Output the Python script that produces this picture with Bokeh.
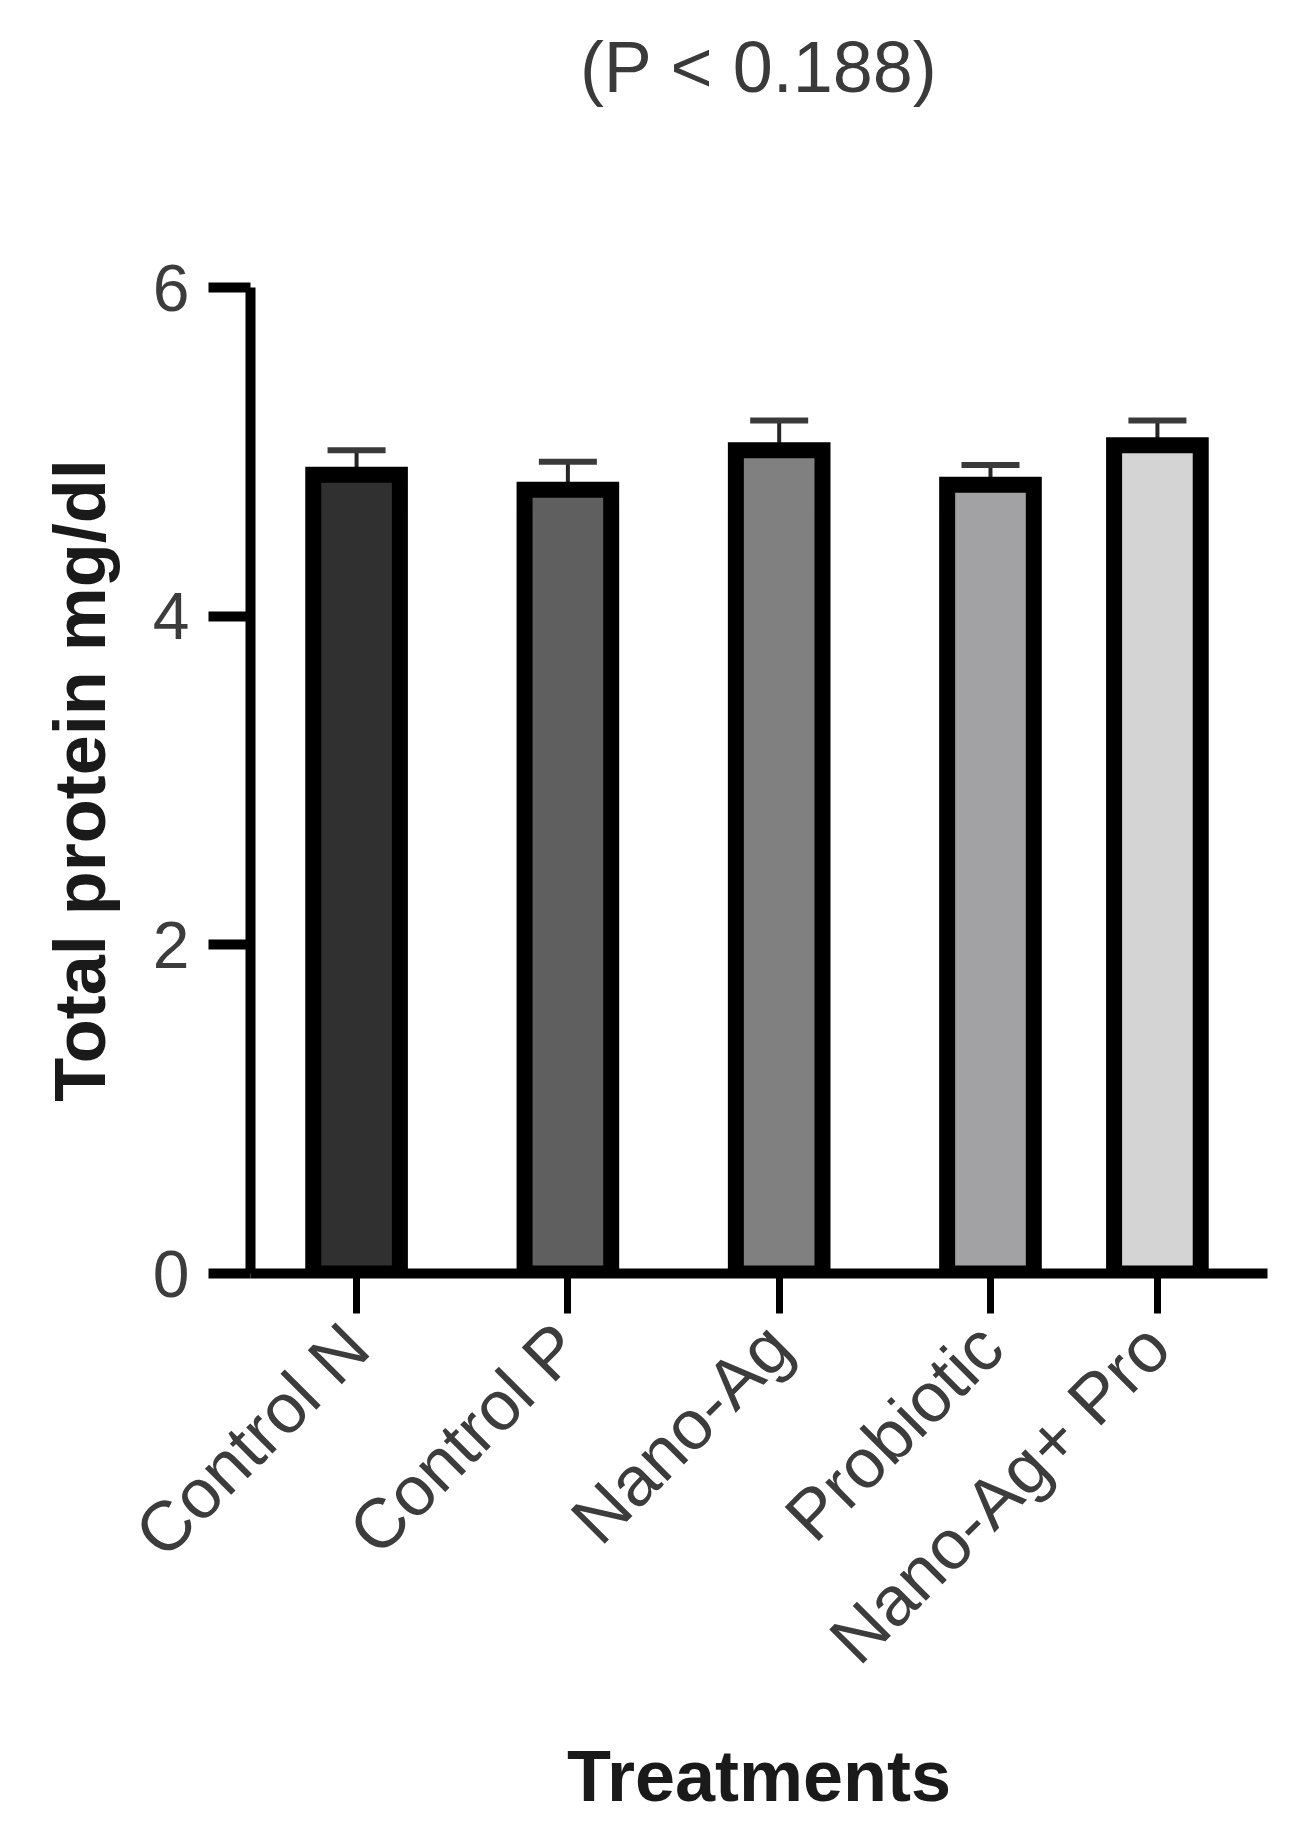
import math
from bokeh.plotting import figure
from bokeh.models import ColumnDataSource, FixedTicker, Whisker, TeeHead, Title
from bokeh.embed import file_html
from bokeh.resources import INLINE

# ---- data ----
categories = ["Control N", "Control P", "Nano-Ag", "Probiotic", "Nano-Ag+ Pro"]
means = [4.86, 4.77, 5.01, 4.80, 5.04]
sems = [0.15, 0.17, 0.18, 0.12, 0.15]
colors = ["#303030", "#5f5f5f", "#808080", "#a2a2a5", "#d4d4d4"]
y_ticks = [0, 2, 4, 6]
title_text = "(P < 0.188)"
x_title = "Treatments"
y_title = "Total protein mg/dl"

# ---- layout: category slots on a numeric axis (last slot is set closer, as in the reference) ----
x_pos = [1, 2, 3, 4, 4.79]
X_START, X_END = 0.498, 5.311

src = ColumnDataSource(dict(
    x=x_pos,
    mean=means,
    upper=[m + s for m, s in zip(means, sems)],
    color=colors,
    cat=categories,
))

p = figure(width=1285, height=1824, output_backend="svg", toolbar_location=None,
           x_range=(X_START, X_END), y_range=(0, 6),
           min_border_left=250, min_border_right=18,
           min_border_top=287, min_border_bottom=551)
p.outline_line_color = None
p.xgrid.grid_line_color = None
p.ygrid.grid_line_color = None
p.background_fill_color = "white"
p.border_fill_color = "white"

# error bars (upward only)
err = Whisker(base="x", lower="mean", upper="upper", source=src,
              line_color="#262626", line_width=4,
              upper_head=TeeHead(size=58, line_color="#3a3a3a", line_width=6),
              lower_head=None, level="underlay")
p.add_layout(err)

p.vbar(x="x", top="mean", bottom=0, width=0.41, source=src,
       fill_color="color", line_color="black", line_width=16, line_join="miter")

# spacer panel between the frame and the title (pushes the title to the top)
spacer = Title(text=" ", text_font_size="1px", standoff=178)
p.add_layout(spacer, "above")

# title
p.title.text = title_text
p.title.align = "center"
p.title.vertical_align = "bottom"
p.title.text_font = "Liberation Sans"
p.title.text_font_size = "72px"
p.title.text_font_style = "normal"
p.title.text_color = "#3a3a3a"
p.title.standoff = 0

# y axis
ya = p.yaxis[0]
ya.ticker = FixedTicker(ticks=y_ticks)
ya.axis_line_width = 10
ya.axis_line_color = "black"
ya.major_tick_line_width = 10
ya.major_tick_line_color = "black"
ya.major_tick_out = 42
ya.major_tick_in = 0
ya.minor_tick_line_color = None
ya.major_label_text_font = "Liberation Sans"
ya.major_label_text_font_size = "66px"
ya.major_label_text_color = "#3c3c3c"
ya.major_label_standoff = 19
ya.axis_label = y_title
ya.axis_label_text_font = "Liberation Sans"
ya.axis_label_text_font_size = "72px"
ya.axis_label_text_font_style = "bold"
ya.axis_label_text_color = "#1a1a1a"
ya.axis_label_standoff = 30

# x axis
xa = p.xaxis[0]
xa.ticker = FixedTicker(ticks=x_pos)
xa.major_label_overrides = {x: c for x, c in zip(x_pos, categories)}
xa.major_label_orientation = math.pi / 4
xa.axis_line_width = 10
xa.axis_line_color = "black"
xa.major_tick_line_width = 7
xa.major_tick_line_color = "black"
xa.major_tick_out = 40
xa.major_tick_in = 0
xa.minor_tick_line_color = None
xa.major_label_text_font = "Liberation Sans"
xa.major_label_text_font_size = "70px"
xa.major_label_text_color = "#3c3c3c"
xa.major_label_standoff = 22
xa.axis_label = x_title
xa.axis_label_text_font = "Liberation Sans"
xa.axis_label_text_font_size = "72px"
xa.axis_label_text_font_style = "bold"
xa.axis_label_text_color = "#1a1a1a"
xa.axis_label_standoff = 27

open("out.html", "w").write(file_html(p, INLINE))
